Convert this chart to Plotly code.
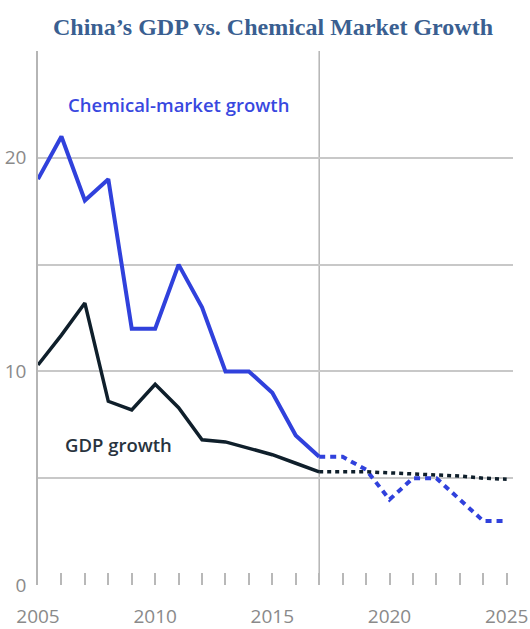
import plotly.graph_objects as go

years_hist = list(range(2005, 2018))
chem_hist = [19, 21, 18, 19, 12, 12, 15, 13, 10, 10, 9, 7, 6]
gdp_hist = [10.3, 11.7, 13.2, 8.6, 8.2, 9.4, 8.3, 6.8, 6.7, 6.4, 6.1, 5.7, 5.3]

years_proj = list(range(2017, 2026))
chem_proj = [6, 6, 5.4, 4, 5, 5, 4, 3, 3]
gdp_proj = [5.3, 5.3, 5.3, 5.25, 5.2, 5.15, 5.1, 5.0, 4.95]

tick_years = list(range(2005, 2026))
tick_text = [str(y) if y % 5 == 0 else "" for y in tick_years]
y_ticks = [0, 5, 10, 15, 20, 25]
y_text = ["0", "", "10", "", "20", ""]

BLUE = "#3041dc"
DARK = "#0f1f2b"
GREY_TXT = "#8a8a8a"

fig = go.Figure()
fig.add_trace(go.Scatter(x=years_hist, y=chem_hist, mode="lines",
                         line=dict(color=BLUE, width=4), hoverinfo="skip"))
fig.add_trace(go.Scatter(x=years_proj, y=chem_proj, mode="lines",
                         line=dict(color=BLUE, width=4, dash="6px,5px"), hoverinfo="skip"))
fig.add_trace(go.Scatter(x=years_hist, y=gdp_hist, mode="lines",
                         line=dict(color=DARK, width=3.5), hoverinfo="skip"))
fig.add_trace(go.Scatter(x=years_proj, y=gdp_proj, mode="lines",
                         line=dict(color=DARK, width=3.5, dash="4px,4px"), hoverinfo="skip"))

fig.add_shape(type="line", x0=2017, x1=2017, y0=0, y1=1, xref="x", yref="paper",
              line=dict(color="#b5b5b5", width=1.5), layer="below")

fig.add_annotation(x=2006.25, y=22.5, xref="x", yref="y", text="Chemical-market growth",
                   showarrow=False, xanchor="left", yanchor="middle", borderpad=0,
                   font=dict(family="Open Sans", size=18.5, color="#3848df", weight=600))
fig.add_annotation(x=2006.1, y=6.6, xref="x", yref="y", text="GDP growth",
                   showarrow=False, xanchor="left", yanchor="middle", borderpad=0,
                   font=dict(family="Open Sans", size=18.5, color="#28333e", weight=600))
fig.add_annotation(x=0.5, y=1.0, xref="paper", yref="paper", yanchor="middle",
                   xanchor="center", yshift=24, xshift=-3, showarrow=False,
                   text="<b>China’s GDP vs. Chemical Market Growth</b>",
                   font=dict(family="Liberation Serif", size=24, color="#3a5f91"))

fig.update_layout(
    width=530, height=629,
    margin=dict(l=38, r=17, t=51, b=44, autoexpand=False),
    paper_bgcolor="white", plot_bgcolor="white",
    showlegend=False,
    xaxis=dict(range=[2005, 2025.27], tickvals=tick_years, ticktext=tick_text,
               ticks="inside", ticklen=12, tickwidth=1.5, tickcolor="#b8b8b8",
               showgrid=False, zeroline=False, showline=False, automargin=False,
               tickfont=dict(family="Open Sans", size=19, color=GREY_TXT),
               ticklabelstandoff=18, fixedrange=True),
    yaxis=dict(range=[0, 25], tickvals=y_ticks, ticktext=y_text,
               showgrid=True, gridcolor="#c8c8c8", gridwidth=1.5, automargin=False,
               zeroline=False, showline=True, linecolor="#b5b5b5", linewidth=1.5,
               ticks="", tickfont=dict(family="Open Sans", size=19, color=GREY_TXT),
               ticklabelstandoff=6, fixedrange=True),
)

fig.write_html("out.html")
